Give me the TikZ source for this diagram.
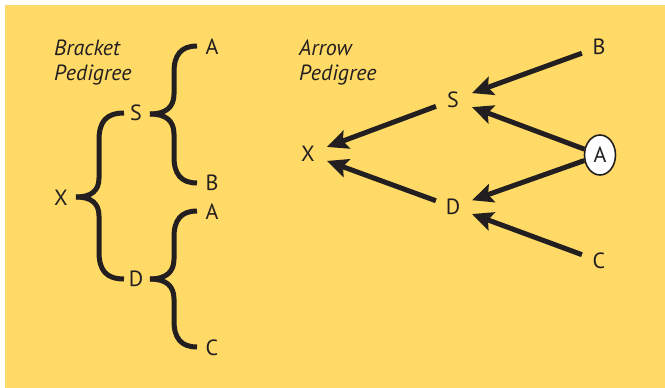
\documentclass[tikz,border=0pt]{standalone}
\usepackage{fontspec}
\setmainfont{PT Sans}
\usetikzlibrary{arrows.meta,shapes.geometric}
\definecolor{panel}{RGB}{255,218,102}
\definecolor{ink}{RGB}{35,31,32}
\tikzset{
  lbl/.style={inner sep=0pt, text height=15pt, text depth=0pt, text=ink,
              font=\fontsize{22}{26}\selectfont},
  pt/.style={lbl, circle, minimum size=36pt},
  title/.style={inner sep=0pt, anchor=base west, text=ink,
                font=\fontsize{22}{26}\selectfont\itshape},
  brace/.style={draw=ink, line width=5pt, line cap=butt},
  arr/.style={draw=ink, line width=5pt,
              -{Stealth[length=21pt,width=19pt,inset=4pt]}, shorten >=2pt},
}
\begin{document}
\begin{tikzpicture}[x=1pt,y=-1pt]
  \useasboundingbox (0,0) rectangle (665,388);
  \fill[white] (0,0) rectangle (665,388);
  \fill[panel] (5,5) rectangle (665,388);

  % bracket pedigree
  \node[title] (t1) at (54,55) {Bracket};
  \node[title] (t2) at (54,80) {Pedigree};

  \node[lbl] (bX)  at (61,198) {X};
  \node[lbl] (bS)  at (136,113) {S};
  \node[lbl] (bD)  at (136,279) {D};
  \node[lbl] (bA1) at (212,47) {A};
  \node[lbl] (bB)  at (212,183) {B};
  \node[lbl] (bA2) at (212,212) {A};
  \node[lbl] (bC)  at (212,348) {C};

  % brace from X to S and D
  \draw[brace] (124,113) .. controls (106,113) and (99,122) .. (99,140)
     -- (99,178) .. controls (99,191) and (91,197) .. (76,197);
  \draw[brace] (76,197) .. controls (91,197) and (99,203) .. (99,216)
     -- (99,252) .. controls (99,270) and (106,279) .. (124,279);
  % brace from S to A and B
  \draw[brace] (197,46) .. controls (181,46) and (174,55) .. (174,72)
     -- (174,94) .. controls (174,107) and (166,114) .. (150,114);
  \draw[brace] (150,114) .. controls (166,114) and (174,121) .. (174,134)
     -- (174,157) .. controls (174,174) and (181,183) .. (197,183);
  % brace from D to A and C
  \draw[brace] (197,211) .. controls (181,211) and (174,220) .. (174,237)
     -- (174,259) .. controls (174,272) and (166,279) .. (150,279);
  \draw[brace] (150,279) .. controls (166,279) and (174,286) .. (174,299)
     -- (174,321) .. controls (174,338) and (181,347) .. (197,347);

  % arrow pedigree
  \node[title] (t3) at (299,55) {Arrow};
  \node[title] (t4) at (299,80) {Pedigree};

  \node[pt] (rX) at (308,154) {X};
  \node[pt] (rS) at (453,100) {S};
  \node[pt] (rD) at (453,207) {D};
  \node[pt] (rB) at (599,47) {B};
  \node[pt] (rC) at (599,261) {C};
  \node[lbl, ellipse, draw=ink, fill=white, line width=1.6pt,
        minimum width=31pt, minimum height=40pt] (rA) at (600,155) {A};

  \draw[arr] (rB) -- (rS);
  \draw[arr] (rA) -- (rS);
  \draw[arr] (rA) -- (rD);
  \draw[arr] (rC) -- (rD);
  \draw[arr] (rS) -- (rX);
  \draw[arr] (rD) -- (rX);
\end{tikzpicture}
\end{document}
